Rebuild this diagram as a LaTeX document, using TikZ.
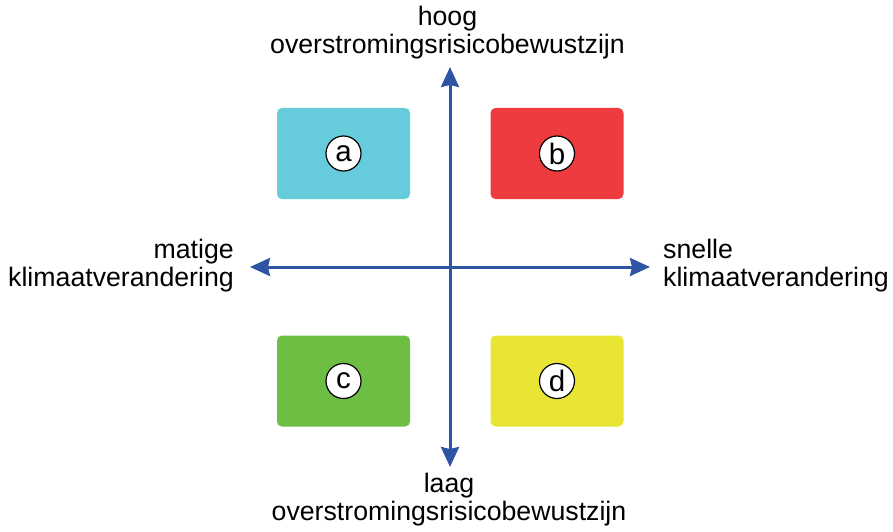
\documentclass[tikz,border=0pt]{standalone}
\usepackage{fontspec}
\setmainfont{Liberation Sans}
\usetikzlibrary{arrows.meta}
\definecolor{cA}{HTML}{66CCDC}
\definecolor{cB}{HTML}{ED3B40}
\definecolor{cC}{HTML}{6FBE44}
\definecolor{cD}{HTML}{E8E534}
\definecolor{axisblue}{HTML}{2E55A5}
\tikzset{
  quad/.style={rectangle, rounded corners=5pt, minimum width=133pt, minimum height=91pt, inner sep=0pt},
  tag/.style={circle, draw=black, fill=white, line width=1.2pt, minimum size=35pt, inner sep=0pt, font=\fontsize{29.5}{29.5}\selectfont},
  lbl/.style={inner sep=0pt, font=\fontsize{26.7}{27.5}\selectfont},
  axis/.style={draw=axisblue, line width=3pt, {Stealth[length=20pt,width=18pt,inset=2pt]}-{Stealth[length=20pt,width=18pt,inset=2pt]}}
}
\begin{document}
\begin{tikzpicture}[x=1pt,y=-1pt]
\useasboundingbox (0,0) rectangle (893,532);
% quadrant boxes
\node[quad, fill=cA] (qa) at (343.5,153.5) {};
\node[quad, fill=cB] (qb) at (557,153.5) {};
\node[quad, fill=cC] (qc) at (343.5,381) {};
\node[quad, fill=cD] (qd) at (557,381) {};
\node[tag] (ta) at (qa.center) {a};
\node[tag] (tb) at (qb.center) {b};
\node[tag] (tc) at (qc.center) {c};
\node[tag] (td) at (qd.center) {d};
% axes
\coordinate (N) at (450,67);
\coordinate (S) at (450,467);
\coordinate (W) at (250,267);
\coordinate (E) at (650,267);
\draw[axis] (S) -- (N);
\draw[axis] (W) -- (E);
% labels
\node[lbl, align=center, anchor=north] (top) at (447.5,6) {hoog\\overstromingsrisicobewustzijn};
\node[lbl, align=center, anchor=north] (bot) at (449,473) {laag\\overstromingsrisicobewustzijn};
\node[lbl, align=right, anchor=north east] (left) at (234,239) {matige\\klimaatverandering};
\node[lbl, align=left, anchor=north west] (right) at (663,239) {snelle\\klimaatverandering};
\end{tikzpicture}
\end{document}
